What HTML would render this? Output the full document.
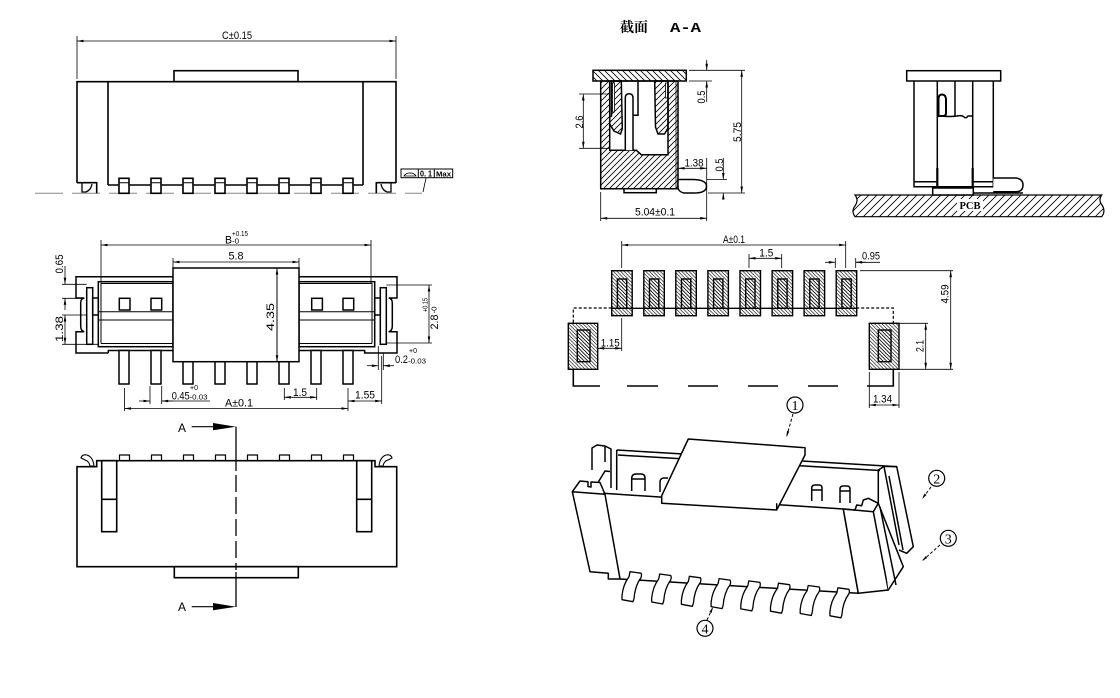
<!DOCTYPE html>
<html><head><meta charset="utf-8"><style>
html,body{margin:0;padding:0;background:#fff;}
svg{display:block;}
text{font-family:"Liberation Sans Narrow","Liberation Sans",sans-serif;font-size:11px;fill:#000;stroke:none;}
.s{font-size:7.5px;}
</style></head><body>
<svg width="1120" height="698" viewBox="0 0 1120 698" xmlns="http://www.w3.org/2000/svg">
<defs>
<marker id="a" viewBox="0 0 10 4" refX="10" refY="2" markerWidth="7" markerHeight="2.6" orient="auto-start-reverse" markerUnits="userSpaceOnUse"><path d="M0,0 L10,2 L0,4 z" fill="#000"/></marker>
<marker id="b" viewBox="0 0 10 4" refX="10" refY="2" markerWidth="6" markerHeight="3" orient="auto" markerUnits="userSpaceOnUse"><path d="M0,0 L10,2 L0,4 z" fill="#000"/></marker>
<pattern id="hF" width="6" height="6" patternUnits="userSpaceOnUse"><path d="M-1,1 l2,-2 M0,6 l6,-6 M5,7 l2,-2" stroke="#000" stroke-width="0.8"/></pattern>
<pattern id="hB" width="6" height="6" patternUnits="userSpaceOnUse"><path d="M-1,5 l2,2 M0,0 l6,6 M5,-1 l2,2" stroke="#000" stroke-width="0.8"/></pattern>
<pattern id="hP" width="3.6" height="3.6" patternUnits="userSpaceOnUse"><path d="M-1,2.6 l2,2 M0,0 l3.6,3.6 M2.6,-1 l2,2" stroke="#000" stroke-width="0.6"/></pattern>
<pattern id="hC" width="8" height="8" patternUnits="userSpaceOnUse"><path d="M-1,1 l2,-2 M0,8 l8,-8 M7,9 l2,-2" stroke="#000" stroke-width="0.8"/></pattern>
</defs>

<!-- ============ FRONT VIEW ============ -->
<g fill="none" stroke="#000" stroke-width="1">
  <path d="M35,193.3 H422" stroke="#888" stroke-dasharray="28 9"/>
  <path d="M77,36 V79 M396,36 V79" stroke-width="0.8"/>
  <path d="M77,41 H396" stroke-width="0.8" marker-start="url(#a)" marker-end="url(#a)"/>
</g>
<text x="222" y="39" textLength="30" lengthAdjust="spacingAndGlyphs">C±0.15</text>
<g fill="none" stroke="#000" stroke-width="1.6">
  <rect x="174" y="70.7" width="124" height="11"/>
  <path d="M77,183 V81.7 H396 V183"/>
  <path d="M108,81.7 V185 M363,81.7 V185 M108,185 H363"/>
  <path d="M77,182.7 H96.7 V193.3 M396,182.7 H376.3 V193.3"/>
  <path d="M82,183 V192 H86 Q91,190 92,184" stroke-width="1.3"/>
  <path d="M391,183 V192 H387 Q382,190 381,184" stroke-width="1.3"/>
  <g fill="#fff">
    <rect x="119" y="178.3" width="10" height="15"/><rect x="151" y="178.3" width="10" height="15"/>
    <rect x="183" y="178.3" width="10" height="15"/><rect x="215" y="178.3" width="10" height="15"/>
    <rect x="247" y="178.3" width="10" height="15"/><rect x="279" y="178.3" width="10" height="15"/>
    <rect x="311" y="178.3" width="10" height="15"/><rect x="343" y="178.3" width="10" height="15"/>
  </g>
  <path d="M119,182.7 h10 M151,182.7 h10 M183,182.7 h10 M215,182.7 h10 M247,182.7 h10 M279,182.7 h10 M311,182.7 h10 M343,182.7 h10" stroke-width="1"/>
</g>
<g fill="none" stroke="#000" stroke-width="1">
  <rect x="401" y="169" width="51.7" height="8.7"/>
  <path d="M418.3,169 V177.7 M434.3,169 V177.7"/>
  <path d="M404,176 A6.5,5 0 0 1 416,176 Z" stroke-width="0.8"/>
  <path d="M426,178 L423,192" stroke-width="0.8"/>
</g>
<text x="420" y="176.5" style="font-size:8px;font-weight:bold" textLength="12" lengthAdjust="spacingAndGlyphs">0. 1</text>
<text x="436" y="176.5" style="font-size:7.5px;font-weight:bold" textLength="15" lengthAdjust="spacingAndGlyphs">Max</text>

<!-- ============ TOP VIEW ============ -->
<g fill="none" stroke="#000" stroke-width="0.8">
  <path d="M101,240 V283 M371,240 V283"/>
  <path d="M101,245 H371" marker-start="url(#a)" marker-end="url(#a)"/>
  <path d="M173,258 V268 M299,258 V268"/>
  <path d="M173,262 H299" marker-start="url(#a)" marker-end="url(#a)"/>
  <path d="M62,284.3 H86.7 M62,298.3 H84.3 M62,315 H86.7 M62,344.3 H98"/>
  <path d="M65,266 V284.3" marker-end="url(#a)"/>
  <path d="M65,310 V298.3" marker-end="url(#a)"/>
  <path d="M65,315 V344.3" marker-start="url(#a)" marker-end="url(#a)"/>
  <path d="M386.3,285 H432 M386.3,343 H432"/>
  <path d="M429,285 V343" marker-start="url(#a)" marker-end="url(#a)"/>
  <path d="M378.3,346 V370 M383.3,353 V370"/>
  <path d="M367,365.7 H378.3" marker-end="url(#a)"/>
  <path d="M394,365.7 H383.3" marker-end="url(#a)"/>
  <path d="M150,386 V404 M161.7,386 V404"/>
  <path d="M139,401 H150" marker-end="url(#a)"/>
  <path d="M172.7,401 H161.7" marker-end="url(#a)"/>
  <path d="M161.7,401 H210"/>
  <path d="M284.3,388 V400 M316.7,388 V400"/>
  <path d="M284.3,397.3 H316.7" marker-start="url(#a)" marker-end="url(#a)"/>
  <path d="M348,388 V411 M381.7,356 V404 M124.5,388 V411"/>
  <path d="M348,401 H381.7" marker-start="url(#a)" marker-end="url(#a)"/>
  <path d="M124.5,408.5 H348" marker-start="url(#a)" marker-end="url(#a)"/>
</g>
<text x="225" y="243.5" textLength="7" lengthAdjust="spacingAndGlyphs">B</text>
<text x="232" y="236" class="s" textLength="16" lengthAdjust="spacingAndGlyphs">+0.15</text>
<text x="232" y="243.5" class="s" textLength="7" lengthAdjust="spacingAndGlyphs">-0</text>
<text x="228.5" y="259.5" textLength="15" lengthAdjust="spacingAndGlyphs">5.8</text>
<text x="59" y="264" text-anchor="middle" dy="0.35em" transform="rotate(-90 59 264)" textLength="19" lengthAdjust="spacingAndGlyphs">0.65</text>
<text x="59" y="329" text-anchor="middle" dy="0.35em" transform="rotate(-90 59 329)" textLength="26" lengthAdjust="spacingAndGlyphs">1.38</text>
<text x="434" y="322" text-anchor="middle" dy="0.35em" transform="rotate(-90 434 322)" textLength="15" lengthAdjust="spacingAndGlyphs">2.8</text>
<text x="434" y="310" text-anchor="middle" dy="0.35em" class="s" transform="rotate(-90 434 310)" textLength="7" lengthAdjust="spacingAndGlyphs">-0</text>
<text x="425" y="305" text-anchor="middle" dy="0.35em" class="s" transform="rotate(-90 425 305)" textLength="14" lengthAdjust="spacingAndGlyphs">+0.15</text>
<text x="395" y="363" textLength="13" lengthAdjust="spacingAndGlyphs">0.2</text>
<text x="409" y="353" class="s" textLength="8" lengthAdjust="spacingAndGlyphs">+0</text>
<text x="408" y="363.5" class="s" textLength="18" lengthAdjust="spacingAndGlyphs">-0.03</text>
<text x="171.7" y="399.5" textLength="18" lengthAdjust="spacingAndGlyphs">0.45</text>
<text x="190" y="390" class="s" textLength="8" lengthAdjust="spacingAndGlyphs">+0</text>
<text x="189.5" y="399.5" class="s" textLength="18" lengthAdjust="spacingAndGlyphs">-0.03</text>
<text x="293" y="396" textLength="14" lengthAdjust="spacingAndGlyphs">1.5</text>
<text x="355" y="398.5" textLength="20" lengthAdjust="spacingAndGlyphs">1.55</text>
<text x="225" y="406.5" textLength="28" lengthAdjust="spacingAndGlyphs">A±0.1</text>
<g fill="none" stroke="#000" stroke-width="1.5">
  <path d="M108.3,353 H76 V331.7 H84.3 Q80.7,331 80.7,326 V303 Q80.7,298.5 84.3,298 H76 V276.7 H397 V298 H388.7 Q392.3,298.5 392.3,303 V326 Q392.3,331 388.7,331.7 H397 V353 H364.7 V350.5 H108.3 V353"/>
  <rect x="98.3" y="281.7" width="74.7" height="65"/>
  <rect x="299" y="281.7" width="75.7" height="65"/>
  <path d="M101,343.5 V283.5 H173 M101,343.5 H173 M372,343.5 V283.5 H299 M372,343.5 H299" stroke-width="1"/>
  <path d="M98.3,311.7 H173 M98.3,320 H173 M299,311.7 H374.7 M299,320 H374.7" stroke-width="1"/>
  <rect x="86.7" y="287.7" width="6" height="56.6"/>
  <rect x="380.3" y="287.7" width="6" height="56.6"/>
  <rect x="92.7" y="298" width="5.6" height="17"/>
  <rect x="374.7" y="298" width="5.6" height="17"/>
  <rect x="119.3" y="298.3" width="10.7" height="11.7"/>
  <rect x="151" y="298.3" width="10.7" height="11.7"/>
  <rect x="311.7" y="298.3" width="10.7" height="11.7"/>
  <rect x="343" y="298.3" width="10.7" height="11.7"/>
  <g fill="#fff">
    <rect x="119" y="350.5" width="10" height="33.5"/><rect x="151" y="350.5" width="10" height="33.5"/>
    <rect x="183" y="361.7" width="10" height="22.3"/><rect x="215" y="361.7" width="10" height="22.3"/>
    <rect x="247" y="361.7" width="10" height="22.3"/><rect x="279" y="361.7" width="10" height="22.3"/>
    <rect x="311" y="350.5" width="10" height="33.5"/><rect x="343" y="350.5" width="10" height="33.5"/>
  </g>
  <rect x="173" y="268" width="126" height="93.7" fill="#fff"/>
</g>
<path d="M277,268 V361.7" stroke="#000" stroke-width="1" marker-start="url(#a)" marker-end="url(#a)"/>
<text x="270" y="317" text-anchor="middle" dy="0.35em" transform="rotate(-90 270 317)" textLength="28" lengthAdjust="spacingAndGlyphs">4.35</text>

<!-- ============ BOTTOM VIEW ============ -->
<g fill="none" stroke="#000" stroke-width="1.6">
  <path d="M77,566.7 V466.7 H96.7 V460.7 H375 V466.7 H396.7 V566.7 Z"/>
  <rect x="174.3" y="566.7" width="124" height="11"/>
  <rect x="101.7" y="460.7" width="15" height="71"/>
  <rect x="356.7" y="460.7" width="15" height="71"/>
  <path d="M101.7,499.3 H116.7 M356.7,499.3 H371.7"/>
  <path d="M119.5,460.7 V455 H129.5 V460.7 M151.5,460.7 V455 H161.5 V460.7 M183.5,460.7 V455 H193.5 V460.7 M215.5,460.7 V455 H225.5 V460.7 M247.5,460.7 V455 H257.5 V460.7 M279.5,460.7 V455 H289.5 V460.7 M311.5,460.7 V455 H321.5 V460.7 M343.5,460.7 V455 H353.5 V460.7" stroke-width="1.2"/>
  <path d="M81,458 Q82,454 87,455 Q93,457 94,466 L90,466 Q89,461 85,460 Z" stroke-width="1.1"/>
  <path d="M392,458 Q391,454 386,455 Q380,457 379,466 L383,466 Q384,461 388,460 Z" stroke-width="1.1"/>
  <path d="M236,426.7 V471" stroke-width="1.3"/>
  <path d="M236,475 V570" stroke-width="1.3" stroke-dasharray="17 5"/>
  <path d="M236,572 V607" stroke-width="1.3"/>
  <path d="M191.7,426.7 H214 M191.7,606.7 H214" stroke-width="1.1"/>
</g>
<path d="M213,423 L236,426.7 L213,430.3 Z M213,603 L236,606.7 L213,610.3 Z" fill="#000"/>
<text x="178" y="432" style="font-size:12px">A</text>
<text x="178" y="611" style="font-size:12px">A</text>

<!-- ============ SECTION A-A ============ -->
<text x="620" y="32" style="font-family:'Noto Serif CJK SC','Noto Sans CJK SC',serif;font-size:14px;font-weight:bold" textLength="28" lengthAdjust="spacingAndGlyphs">截面</text>
<text x="670" y="32" style="font-family:'Liberation Mono',monospace;font-size:14px;font-weight:bold" textLength="31" lengthAdjust="spacingAndGlyphs">A-A</text>
<g stroke="#000" stroke-width="1.5">
  <rect x="593" y="70.3" width="93.3" height="10.7" fill="url(#hB)"/>
  <path fill="url(#hF)" fill-rule="evenodd" d="M600.7,81 H678 V188.7 H600.7 Z M609.7,81 H668 V154.7 H641.3 L636.3,150.3 H609.7 Z"/>
  <path d="M676,81 V188.7" fill="none" stroke-width="0.8"/>
  <path fill="url(#hF)" d="M611.5,81 H621.3 L622.3,128.7 L620.5,134 L614,131 L609.7,124 V117 L611.5,116 Z"/>
  <path fill="url(#hF)" d="M654.7,81 H668 V128 L664.5,134 H658 L655.5,127 Z"/>
  <path fill="#fff" stroke-width="0.8" d="M612.5,83 H614.5 V112 H612.5 Z M665.5,83 H667.5 V98 H665.5 Z"/>
  <path fill="#fff" d="M625.3,150.3 V98 Q625.3,93.7 629.2,93.7 Q633,93.7 633,98 V150.3"/>
  <path fill="none" d="M638,81 V115.3 H633"/>
  <rect x="624" y="188.7" width="32.3" height="4" fill="#fff"/>
  <path fill="#fff" d="M678,179.5 H692 Q706.5,179.5 706.5,186.2 Q706.5,193 694,193 H684 Q679,192 678,188 Z"/>
</g>
<g fill="none" stroke="#000" stroke-width="0.8">
  <path d="M689,70.3 H745 M708,193 H745 M689,81 H712"/>
  <path d="M741.7,70.3 V193" marker-start="url(#a)" marker-end="url(#a)"/>
  <path d="M706.7,60 V70.3" marker-end="url(#a)"/>
  <path d="M706.7,102 V81" marker-end="url(#a)"/>
  <path d="M579,94 H609.7 M579,148.3 H609.7"/>
  <path d="M583.3,94 V148.3" marker-start="url(#a)" marker-end="url(#a)"/>
  <path d="M706.7,158 V221"/>
  <path d="M678,168.3 H706.7" marker-start="url(#a)" marker-end="url(#a)"/>
  <path d="M707,179.5 H727"/>
  <path d="M723.3,158 V179.5" marker-end="url(#a)"/>
  <path d="M723.3,199 V193" marker-end="url(#a)"/>
  <path d="M600.7,192 V221"/>
  <path d="M600.7,218.3 H706.7" marker-start="url(#a)" marker-end="url(#a)"/>
</g>
<text x="701" y="97" text-anchor="middle" dy="0.35em" transform="rotate(-90 701 97)" textLength="13" lengthAdjust="spacingAndGlyphs">0.5</text>
<text x="737" y="132" text-anchor="middle" dy="0.35em" transform="rotate(-90 737 132)" textLength="20" lengthAdjust="spacingAndGlyphs">5.75</text>
<text x="579" y="122" text-anchor="middle" dy="0.35em" transform="rotate(-90 579 122)" textLength="13" lengthAdjust="spacingAndGlyphs">2.6</text>
<text x="684.5" y="166.5" textLength="19" lengthAdjust="spacingAndGlyphs">1.38</text>
<text x="719" y="165" text-anchor="middle" dy="0.35em" transform="rotate(-90 719 165)" textLength="13" lengthAdjust="spacingAndGlyphs">0.5</text>
<text x="635" y="215.5" textLength="40" lengthAdjust="spacingAndGlyphs">5.04±0.1</text>

<!-- ============ SIDE VIEW ============ -->
<g stroke="#000" stroke-width="1.5" fill="none">
  <path d="M855,195 H1101.7 Q1098,200 1102,205 Q1106,211 1101.7,216.7 H855 Q851,211 855,206 Q859,200 855,195 Z" fill="url(#hC)" stroke-width="1.2"/>
  <rect x="906.7" y="70.7" width="94" height="10.3"/>
  <path d="M914,81 V186.7 H993.3 V81"/>
  <path d="M937.3,81 V188 M972.7,81 V188 M955,81 V116"/>
  <path d="M914,181.7 H937.3 M972.7,181.7 H993.3"/>
  <path d="M938.5,116 V99 Q938.5,94.5 942,94.5 Q945.5,94.5 946,99 V113 Q946,116 943,116 Z" stroke-width="2"/>
  <path d="M940,116 Q950,117 957,116 Q962,115 964,117 Q966,119 968,116 L972.7,116"/>
  <path d="M937.3,168 V188 M972.7,168 V188" stroke-width="2.2"/>
  <path d="M993.3,178 H1016 Q1023,179 1023,185 Q1023,191.7 1016,191.7 H993.3" fill="#fff"/>
  <path d="M973,193 H1023"/>
  <rect x="932.7" y="188" width="40.6" height="7" fill="#fff"/>
</g>
<rect x="957" y="199" width="26" height="12" fill="#fff"/>
<text x="970" y="209" text-anchor="middle" style="font-family:'Liberation Serif',serif;font-size:10.5px;font-weight:bold">PCB</text>

<!-- ============ FOOTPRINT ============ -->
<g fill="none" stroke="#000" stroke-width="0.8">
  <path d="M621.7,241 V268 M845.7,241 V268"/>
  <path d="M621.7,245 H845.7" marker-start="url(#a)" marker-end="url(#a)"/>
  <path d="M749,254 V268 M781.7,254 V268"/>
  <path d="M749,258.3 H781.7" marker-start="url(#a)" marker-end="url(#a)"/>
  <path d="M835.3,258 V268 M855.7,258 V268"/>
  <path d="M825,262.3 H835.3" marker-end="url(#a)"/>
  <path d="M866,262.3 H855.7" marker-end="url(#a)"/>
  <path d="M855.7,262.3 H880"/>
  <path d="M621.7,318 V351"/>
  <path d="M597.7,348.3 H621.7" marker-start="url(#a)" marker-end="url(#a)"/>
  <path d="M860,270.7 H953 M899,323.3 H928 M899,369.3 H953"/>
  <path d="M925.7,323.3 V369.3" marker-start="url(#a)" marker-end="url(#a)"/>
  <path d="M950.7,270.7 V369.3" marker-start="url(#a)" marker-end="url(#a)"/>
  <path d="M869.3,372 V408 M899,372 V408"/>
  <path d="M869.3,405 H899" marker-start="url(#a)" marker-end="url(#a)"/>
</g>
<text x="723" y="243" textLength="22" lengthAdjust="spacingAndGlyphs">A±0.1</text>
<text x="759.3" y="256.5" textLength="14" lengthAdjust="spacingAndGlyphs">1.5</text>
<text x="862" y="259.5" textLength="18" lengthAdjust="spacingAndGlyphs">0.95</text>
<text x="600.7" y="346.5" textLength="19" lengthAdjust="spacingAndGlyphs">1.15</text>
<text x="919.5" y="346" text-anchor="middle" dy="0.35em" transform="rotate(-90 919.5 346)" textLength="12" lengthAdjust="spacingAndGlyphs">2.1</text>
<text x="944.5" y="294" text-anchor="middle" dy="0.35em" transform="rotate(-90 944.5 294)" textLength="19" lengthAdjust="spacingAndGlyphs">4.59</text>
<text x="873" y="402.5" textLength="19" lengthAdjust="spacingAndGlyphs">1.34</text>
<g stroke="#000" fill="none">
  <path d="M611.7,308.3 H856" stroke-width="1.4"/>
  <path d="M611.7,308 H573.3 V323.3 M856.2,308 H893.3 V323.3" stroke-width="1.2" stroke-dasharray="3 2"/>
  <path d="M573.3,369.3 V386 H600 M627,386 H658 M688,386 H718 M748,386 H778 M808,386 H838 M867,386 H893.3 V369.3" stroke-width="1.6"/>
  <g stroke-width="1.4" fill="url(#hP)">
    <rect x="611.7" y="270.7" width="20.5" height="45"/><rect x="617.4" y="279" width="9.3" height="29.3"/>
    <rect x="643.8" y="270.7" width="20.5" height="45"/><rect x="649.5" y="279" width="9.3" height="29.3"/>
    <rect x="675.8" y="270.7" width="20.5" height="45"/><rect x="681.5" y="279" width="9.3" height="29.3"/>
    <rect x="707.9" y="270.7" width="20.5" height="45"/><rect x="713.6" y="279" width="9.3" height="29.3"/>
    <rect x="740" y="270.7" width="20.5" height="45"/><rect x="745.7" y="279" width="9.3" height="29.3"/>
    <rect x="772.1" y="270.7" width="20.5" height="45"/><rect x="777.8" y="279" width="9.3" height="29.3"/>
    <rect x="804.1" y="270.7" width="20.5" height="45"/><rect x="809.8" y="279" width="9.3" height="29.3"/>
    <rect x="836.2" y="270.7" width="20.5" height="45"/><rect x="841.9" y="279" width="9.3" height="29.3"/>
    <rect x="568.3" y="323.3" width="29.4" height="46"/><rect x="577.3" y="330" width="12.7" height="31.7"/>
    <rect x="869.3" y="323.3" width="29.7" height="46"/><rect x="878.3" y="330" width="12.7" height="31.7"/>
  </g>
</g>

<!-- ============ ISOMETRIC ============ -->
<g stroke="#000" stroke-width="1.5" fill="none" stroke-linejoin="round">
  <path d="M616.7,450 L896.7,466.7 M618,455 L880,470.5"/>
  <path d="M592,470 V448 L597,445 L605,446 V462 M605,446 L611,449 V488 M616.7,450 V490"/>
  <path d="M598,482.5 L605,471 L610,471.5"/>
  <path d="M631.7,491 V478 Q632,474 636,474 H641 Q645,474 645,478 V491 M631.7,479 H645"/>
  <path d="M660,492 V481 Q661,478 664,478 H668"/>
  <path d="M811.7,501 V488 Q812,485 815,485 H819 Q822,485 822,488 V501 M811.7,490 H822"/>
  <path d="M840,503 V489 Q840,486 843,486 H847 Q850,486 850,489 V503 M840,491 H850"/>
  <path d="M878.3,503.3 V470 L884,466.5 H896.7 L913.3,546.7 L906.7,553.3 L899,550"/>
  <path d="M884,466.5 L899,545 M889,476 L903,550"/>
  <path d="M603.3,493.3 L843.3,509 M603.3,493.3 L620,579 L858.3,593.3 L843.3,509" fill="#fff"/>
  <path d="M605,494.3 L572.3,491.7 L590,571.7 L608.3,573.3 V579 L620,579 Z" fill="#fff"/>
  <path d="M572.3,491.7 L580,481 L588,481.7 V486.5 L591,487 V482 L600,482.5 L605,494.3"/>
  <path d="M843.3,509 L873.3,511.7 L888.3,590 L858.3,593.3 Z" fill="#fff"/>
  <path d="M843.3,509 L855,510 L856.7,505 L861.7,505.7 L863.3,500 L868.3,498.3 L878.3,503.3 L873.3,511.7"/>
  <path d="M878.3,503.3 L903.3,566.7 L888.3,590" fill="#fff"/>
  <path d="M880,507 L896,585"/>
  <path d="M688.3,439 L805,447.7 L776.7,503.3 L661.7,495.7 Z" fill="#fff"/>
  <path d="M661.7,495.7 V503.3 L776.7,510 L805,455 V447.7 M776.7,503.3 V510" fill="#fff"/>
  <g fill="#fff" stroke-width="1.3">
    <path d="M630,571.7 l11,1.5 q1,1.5 0,4.5 q-6,8 -7,21 l-1,3 l-11,-2 v-4 q1,-11 7,-19 z"/>
    <path d="M659.7,574 l11,1.5 q1,1.5 0,4.5 q-6,8 -7,21 l-1,3 l-11,-2 v-4 q1,-11 7,-19 z"/>
    <path d="M689.4,576.3 l11,1.5 q1,1.5 0,4.5 q-6,8 -7,21 l-1,3 l-11,-2 v-4 q1,-11 7,-19 z"/>
    <path d="M719.1,578.6 l11,1.5 q1,1.5 0,4.5 q-6,8 -7,21 l-1,3 l-11,-2 v-4 q1,-11 7,-19 z"/>
    <path d="M748.8,580.9 l11,1.5 q1,1.5 0,4.5 q-6,8 -7,21 l-1,3 l-11,-2 v-4 q1,-11 7,-19 z"/>
    <path d="M778.5,583.2 l11,1.5 q1,1.5 0,4.5 q-6,8 -7,21 l-1,3 l-11,-2 v-4 q1,-11 7,-19 z"/>
    <path d="M808.2,585.5 l11,1.5 q1,1.5 0,4.5 q-6,8 -7,21 l-1,3 l-11,-2 v-4 q1,-11 7,-19 z"/>
    <path d="M837.9,587.8 l11,1.5 q1,1.5 0,4.5 q-6,8 -7,21 l-1,3 l-11,-2 v-4 q1,-11 7,-19 z"/>
  </g>
</g>
<g fill="none" stroke="#000" stroke-width="1.2">
  <circle cx="795" cy="405" r="8"/>
  <circle cx="936.7" cy="478.3" r="8"/>
  <circle cx="948.3" cy="538.3" r="8"/>
  <circle cx="705" cy="628.3" r="8"/>
  <path d="M793,414 L786.5,437" stroke-dasharray="3 2" stroke-width="1" marker-end="url(#b)"/>
  <path d="M931,487 L922,499" stroke-dasharray="3 2" stroke-width="1" marker-end="url(#b)"/>
  <path d="M940,545 L922,561" stroke-dasharray="3 2" stroke-width="1" marker-end="url(#b)"/>
  <path d="M707,620 L713,607" stroke-dasharray="3 2" stroke-width="1" marker-end="url(#b)"/>
</g>
<g text-anchor="middle">
  <text x="795" y="410" style="font-family:'Liberation Serif',serif;font-size:14px">1</text>
  <text x="936.7" y="483.3" style="font-family:'Liberation Serif',serif;font-size:14px">2</text>
  <text x="948.3" y="543.3" style="font-family:'Liberation Serif',serif;font-size:14px">3</text>
  <text x="705" y="633.3" style="font-family:'Liberation Serif',serif;font-size:14px">4</text>
</g>
</svg>
</body></html>
